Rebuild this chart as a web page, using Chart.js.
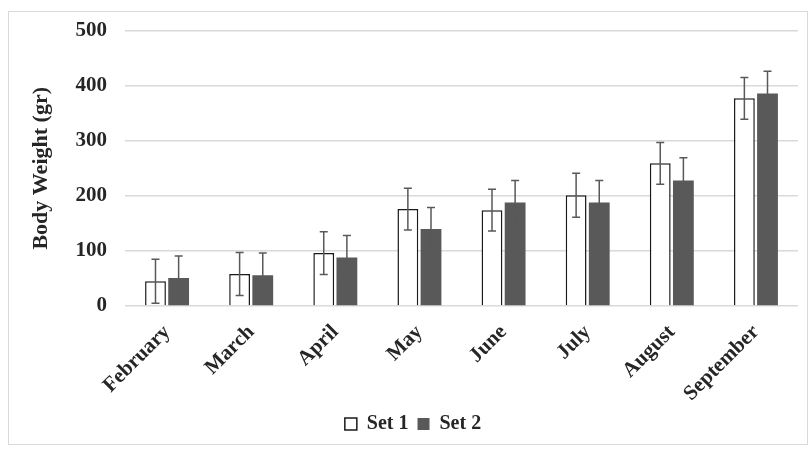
<!DOCTYPE html>
<html>
<head>
<meta charset="utf-8">
<script src="https://cdn.jsdelivr.net/npm/chart.js@4"></script>
<style>
  body { margin: 0; background: #fff; }
  #wrap { position: relative; width: 812px; height: 450px; }
  #frame { position: absolute; left: 8px; top: 11px; width: 800px; height: 434px; border: 1px solid #d9d9d9; box-sizing: border-box; }
  canvas { position: absolute; left: 0; top: 0; }
</style>
</head>
<body>
<div id="wrap">
  <div id="frame"></div>
  <canvas id="weightChart" width="812" height="450"></canvas>
</div>
<script>
const months = ['February', 'March', 'April', 'May', 'June', 'July', 'August', 'September'];
const set1 = [45, 58, 96, 176, 174, 201, 259, 377];
const set1Err = [40, 39, 39, 38, 38, 40, 38, 38];
const set2 = [51, 56, 88, 140, 188, 188, 228, 386];
const set2Err = [40, 40, 40, 39, 40, 40, 41, 40];

const errorBars = {
  id: 'errorBars',
  afterDatasetsDraw(chart) {
    const ctx = chart.ctx;
    const y = chart.scales.y;
    const errs = [set1Err, set2Err];
    ctx.save();
    ctx.strokeStyle = '#595959';
    ctx.lineWidth = 1.5;
    chart.data.datasets.forEach((ds, di) => {
      const meta = chart.getDatasetMeta(di);
      meta.data.forEach((bar, i) => {
        const top = y.getPixelForValue(ds.data[i] + errs[di][i]);
        const bot = y.getPixelForValue(ds.data[i] - errs[di][i]);
        ctx.beginPath();
        ctx.moveTo(bar.x, top);
        ctx.lineTo(bar.x, bot);
        ctx.moveTo(bar.x - 4, top);
        ctx.lineTo(bar.x + 4, top);
        ctx.moveTo(bar.x - 4, bot);
        ctx.lineTo(bar.x + 4, bot);
        ctx.stroke();
      });
    });
    ctx.restore();
  }
};

const font = { family: '"Liberation Serif", "Times New Roman", serif', weight: 'bold' };

new Chart(document.getElementById('weightChart').getContext('2d'), {
  type: 'bar',
  data: {
    labels: months,
    datasets: [
      {
        label: 'Set 1',
        data: set1,
        backgroundColor: '#ffffff',
        borderColor: '#1a1a1a',
        borderWidth: 1.5,
        categoryPercentage: 0.55,
        barPercentage: 0.9
      },
      {
        label: 'Set 2',
        data: set2,
        backgroundColor: '#595959',
        borderWidth: 0,
        categoryPercentage: 0.55,
        barPercentage: 0.9
      }
    ]
  },
  plugins: [errorBars],
  options: {
    responsive: false,
    animation: false,
    layout: { padding: { left: 28, top: 30, right: 14, bottom: 6 } },
    plugins: {
      legend: {
        position: 'bottom',
        labels: {
          font: { ...font, size: 20 },
          color: '#262626',
          boxWidth: 12,
          boxHeight: 12,
          padding: 9
        }
      },
      tooltip: { enabled: false }
    },
    scales: {
      x: {
        grid: { display: false },
        border: { display: false },
        ticks: {
          font: { ...font, size: 21 },
          color: '#262626',
          minRotation: 45,
          maxRotation: 45,
          padding: 6
        },
        afterFit(scale) { scale.height = 99; }
      },
      y: {
        min: 0,
        max: 500,
        ticks: {
          stepSize: 100,
          font: { ...font, size: 21 },
          color: '#262626',
          padding: 18
        },
        grid: { color: '#d9d9d9', lineWidth: 1.5, drawTicks: false },
        border: { display: false },
        title: {
          display: true,
          text: 'Body Weight (gr)',
          font: { ...font, size: 22 },
          color: '#262626',
          padding: 0
        },
        afterFit(scale) { scale.width = 97; }
      }
    }
  }
});
</script>
</body>
</html>
